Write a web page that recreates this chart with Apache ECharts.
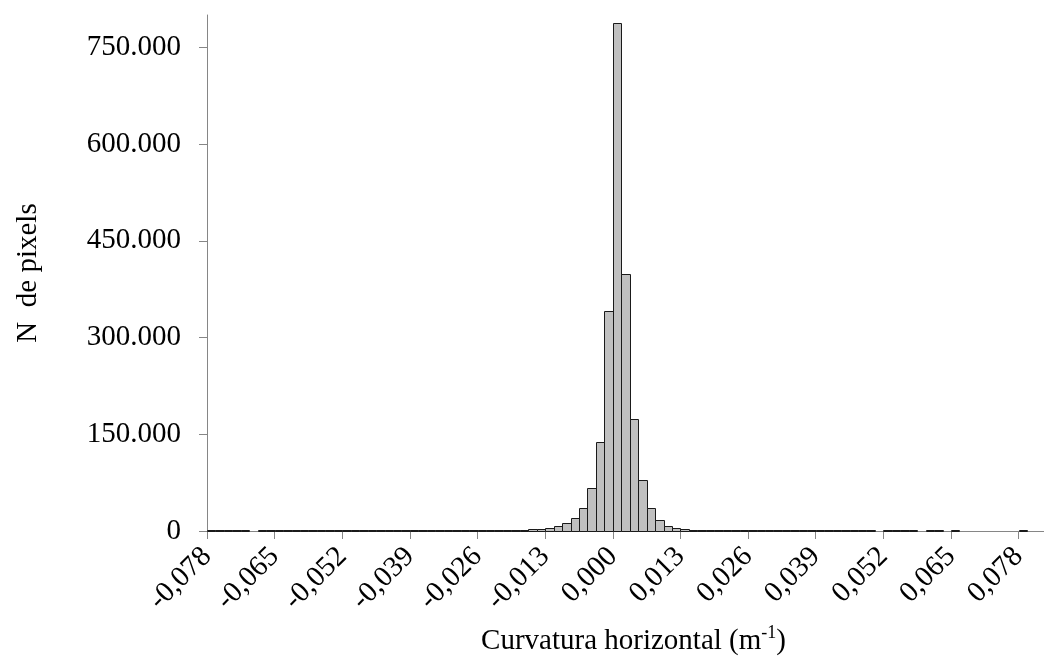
<!DOCTYPE html>
<html>
<head>
<meta charset="utf-8">
<title>Curvatura horizontal</title>
<script src="https://cdn.jsdelivr.net/npm/echarts@6/dist/echarts.min.js"></script>
<style>
  html, body { margin: 0; padding: 0; background: #fff; }
  #chart { width: 1044px; height: 664px; }
</style>
</head>
<body>
<div id="chart"></div>
<script>
// Histogram bins: first bin starts at binStart, every bin is binWidth wide
var binStart = -0.078;
var binWidth = 0.001625;

// Pixel counts per bin, left to right
var binCounts = [
  600, 500, 500, 400, 500, 0, 300, 300, 300, 300,
  300, 300, 300, 300, 300, 300, 350, 350, 350, 350,
  400, 400, 400, 400, 450, 450, 450, 500, 500, 500,
  550, 600, 650, 700, 800, 900, 1100, 1500, 2600, 3600,
  5200, 7700, 11900, 20600, 35000, 67000, 138000, 341000, 787000, 398000,
  174000, 79000, 36000, 16500, 8300, 4100, 2500, 1500, 1100, 900,
  800, 700, 600, 550, 500, 500, 450, 450, 400, 400,
  400, 350, 350, 350, 300, 300, 300, 300, 300, 0,
  300, 300, 250, 250, 0, 250, 250, 0, 200, 0,
  0, 0, 0, 0, 0, 0, 200, 0, 0
];

// Axis ticks and their labels
var xTickValues = [-0.078, -0.065, -0.052, -0.039, -0.026, -0.013, 0, 0.013, 0.026, 0.039, 0.052, 0.065, 0.078];
var xTickLabels = ['-0,078', '-0,065', '-0,052', '-0,039', '-0,026', '-0,013', '0,000', '0,013', '0,026', '0,039', '0,052', '0,065', '0,078'];
var yTickValues = [0, 150000, 300000, 450000, 600000, 750000];
var yTickLabels = ['0', '150.000', '300.000', '450.000', '600.000', '750.000'];

var xAxisTitle = 'Curvatura horizontal (m';
var xAxisTitleSup = '-1';
var xAxisTitleEnd = ')';
var yAxisTitle = 'N  de pixels';

var histData = binCounts.map(function (c, i) {
  var lo = binStart + i * binWidth;
  return [lo, lo + binWidth, c];
});

function labelFor(values, labels, v) {
  var best = 0, d = Infinity;
  for (var i = 0; i < values.length; i++) {
    var dd = Math.abs(values[i] - v);
    if (dd < d) { d = dd; best = i; }
  }
  return d < 1e-6 * (Math.abs(v) + 1) ? labels[best] : '';
}

var FONT = '"Liberation Serif", "Times New Roman", serif';
var AXIS_GREY = '#868686';
var FS = 29;

var chart = echarts.init(document.getElementById('chart'), null, { renderer: 'canvas' });

chart.setOption({
  animation: false,
  backgroundColor: '#ffffff',
  grid: { left: 207, top: 15, width: 838, height: 516, containLabel: false },
  xAxis: {
    type: 'value',
    min: binStart,
    max: binStart + binCounts.length * binWidth,
    splitLine: { show: false },
    axisLine: { show: true, onZero: false, lineStyle: { color: AXIS_GREY, width: 1 } },
    axisTick: { show: true, length: 8, customValues: xTickValues, lineStyle: { color: AXIS_GREY, width: 1 } },
    axisLabel: {
      customValues: xTickValues,
      rotate: 45,
      margin: 21,
      padding: [14, 0, 0, 0],
      hideOverlap: false,
      color: '#000',
      fontFamily: FONT,
      fontSize: FS,
      formatter: function (v) { return labelFor(xTickValues, xTickLabels, v); }
    },
    name: '{t|' + xAxisTitle + '}{s|' + xAxisTitleSup + '}{t|' + xAxisTitleEnd + '}',
    nameLocation: 'middle',
    nameGap: 93,
    nameTextStyle: {
      padding: [0, 0, 0, 16],
      rich: {
        t: { fontFamily: FONT, fontSize: FS, color: '#000', lineHeight: 32, verticalAlign: 'bottom' },
        s: { fontFamily: FONT, fontSize: 18, color: '#000', lineHeight: 32, verticalAlign: 'top' }
      }
    }
  },
  yAxis: {
    type: 'value',
    min: 0,
    max: 800000,
    splitLine: { show: false },
    axisLine: { show: true, onZero: false, lineStyle: { color: AXIS_GREY, width: 1 } },
    axisTick: { show: true, length: 8, customValues: yTickValues, lineStyle: { color: AXIS_GREY, width: 1 } },
    axisLabel: {
      customValues: yTickValues,
      margin: 26,
      color: '#000',
      fontFamily: FONT,
      fontSize: FS,
      formatter: function (v) { return labelFor(yTickValues, yTickLabels, v); }
    },
    name: yAxisTitle,
    nameLocation: 'middle',
    nameGap: 164,
    nameRotate: 90,
    nameTextStyle: { fontFamily: FONT, fontSize: FS, color: '#000' }
  },
  series: [{
    type: 'custom',
    data: histData,
    encode: { x: [0, 1], y: 2 },
    renderItem: function (params, api) {
      var v = api.value(2);
      if (!v) return null;
      var top = api.coord([api.value(0), v]);
      var base = api.coord([api.value(1), 0]);
      var x0 = Math.round(top[0]) + 0.5;
      var x1 = Math.round(base[0]) + 0.5;
      var y1 = Math.round(base[1]) + 0.5;
      // keep very small counts visible as a one-pixel sliver above the axis
      var y0 = Math.min(Math.round(top[1]) + 0.5, y1 - 1);
      return {
        type: 'rect',
        shape: { x: x0, y: y0, width: x1 - x0, height: y1 - y0 },
        style: { fill: '#c0c0c0', stroke: '#1a1a1a', lineWidth: 1 }
      };
    }
  }]
});
</script>
</body>
</html>
